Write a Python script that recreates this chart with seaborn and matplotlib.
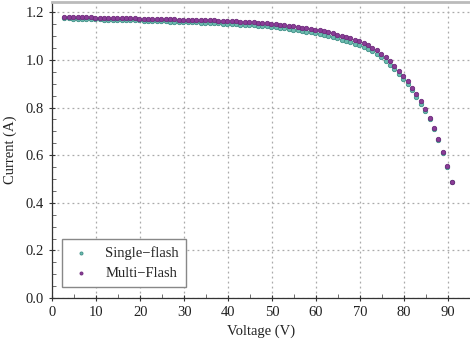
import matplotlib
matplotlib.use("Agg")
import matplotlib.pyplot as plt
from matplotlib.ticker import MultipleLocator
import seaborn as sns
import pandas as pd

voltage = [2.8, 3.8, 4.8, 5.8, 6.8, 7.8, 8.8, 9.8, 10.8, 11.8,
           12.8, 13.8, 14.8, 15.8, 16.8, 17.8, 18.8, 19.8, 20.8, 21.8,
           22.8, 23.8, 24.8, 25.8, 26.8, 27.8, 28.8, 29.8, 30.8, 31.8,
           32.8, 33.8, 34.8, 35.8, 36.8, 37.8, 38.8, 39.8, 40.8, 41.8,
           42.8, 43.8, 44.8, 45.8, 46.8, 47.8, 48.8, 49.8, 50.8, 51.8,
           52.8, 53.8, 54.8, 55.8, 56.8, 57.8, 58.8, 59.8, 60.8, 61.8,
           62.8, 63.8, 64.8, 65.8, 66.8, 67.8, 68.8, 69.8, 70.8, 71.8,
           72.8, 73.8, 74.8, 75.8, 76.8, 77.8, 78.8, 79.8, 80.8, 81.8,
           82.8, 83.8, 84.8, 85.8, 86.8, 87.8, 88.8, 89.8, 90.8]

single_flash = [1.175, 1.175, 1.174, 1.173, 1.173, 1.172, 1.172, 1.171, 1.171, 1.170,
                1.170, 1.169, 1.168, 1.168, 1.167, 1.167, 1.166, 1.166, 1.165, 1.164,
                1.164, 1.163, 1.163, 1.162, 1.161, 1.161, 1.160, 1.160, 1.159, 1.158,
                1.158, 1.157, 1.156, 1.156, 1.155, 1.154, 1.153, 1.152, 1.151, 1.150,
                1.149, 1.148, 1.147, 1.145, 1.144, 1.143, 1.141, 1.139, 1.137, 1.135,
                1.133, 1.130, 1.127, 1.125, 1.122, 1.119, 1.116, 1.112, 1.109, 1.105,
                1.101, 1.096, 1.091, 1.086, 1.081, 1.075, 1.069, 1.062, 1.055, 1.046,
                1.036, 1.024, 1.011, 0.996, 0.979, 0.961, 0.940, 0.919, 0.897, 0.872,
                0.846, 0.817, 0.786, 0.751, 0.710, 0.664, 0.611, 0.552, 0.489]

multi_flash = [1.181, 1.181, 1.180, 1.180, 1.179, 1.179, 1.179, 1.178, 1.178, 1.177,
               1.177, 1.177, 1.176, 1.176, 1.175, 1.175, 1.175, 1.174, 1.174, 1.173,
               1.173, 1.173, 1.172, 1.172, 1.171, 1.171, 1.170, 1.170, 1.169, 1.169,
               1.168, 1.168, 1.167, 1.167, 1.166, 1.165, 1.165, 1.164, 1.163, 1.162,
               1.161, 1.160, 1.159, 1.158, 1.157, 1.156, 1.154, 1.152, 1.150, 1.148,
               1.146, 1.144, 1.141, 1.139, 1.136, 1.133, 1.130, 1.127, 1.124, 1.120,
               1.116, 1.112, 1.107, 1.102, 1.097, 1.091, 1.085, 1.079, 1.071, 1.062,
               1.052, 1.040, 1.027, 1.012, 0.995, 0.976, 0.955, 0.933, 0.910, 0.884,
               0.857, 0.827, 0.794, 0.757, 0.714, 0.667, 0.613, 0.553, 0.489]

series_names = ["Single\u2212flash", "Multi\u2212Flash"]
colors = ["#6cbcb0", "#8a3d97"]
edge_colors = ["#3f8f86", "#6e2b7c"]

df = pd.concat([
    pd.DataFrame({"Voltage": voltage, "Current": single_flash, "Series": series_names[0]}),
    pd.DataFrame({"Voltage": voltage, "Current": multi_flash, "Series": series_names[1]}),
], ignore_index=True)

sns.set_style("white")
plt.rcParams["font.family"] = ["Liberation Serif", "DejaVu Serif"]

fig = plt.figure(figsize=(4.7, 3.45), dpi=100)
ax = fig.add_axes([0.111, 0.1362, 0.889, 0.859])

for name, col, ec in zip(series_names, colors, edge_colors):
    sub = df[df["Series"] == name]
    sns.scatterplot(data=sub, x="Voltage", y="Current", ax=ax, color=col,
                    edgecolor=ec, linewidth=0.6, s=10, label=name, zorder=3)

ax.set_xlim(0, 95)
ax.set_ylim(0, 1.245)
ax.xaxis.set_major_locator(MultipleLocator(10))
ax.xaxis.set_minor_locator(MultipleLocator(5))
ax.yaxis.set_major_locator(MultipleLocator(0.2))
ax.yaxis.set_minor_locator(MultipleLocator(0.05))
ax.yaxis.set_major_formatter(plt.FuncFormatter(lambda v, p: f"{v:.1f}"))

ax.grid(True, which="major", linestyle=(0, (1.5, 2.5)), color="#aaaaaa", linewidth=0.9)
ax.set_axisbelow(True)

ax.tick_params(axis="both", which="major", direction="inout", length=5, width=0.8,
               colors="#333333", labelsize=10.5, labelcolor="#222222",
               bottom=True, left=True, top=False, right=False)
ax.tick_params(axis="both", which="minor", direction="in", length=3, width=0.6,
               colors="#555555", bottom=True, left=True, top=False, right=False)

for side in ["left", "bottom"]:
    ax.spines[side].set_color("#333333")
    ax.spines[side].set_linewidth(0.9)
ax.spines["top"].set_color("#bbbbbb")
ax.spines["top"].set_linewidth(2.0)
ax.spines["right"].set_visible(False)

ax.set_xlabel("Voltage (V)", fontsize=10.5, color="#222222", labelpad=4)
ax.set_ylabel("Current (A)", fontsize=10.5, color="#222222", labelpad=6)

leg = ax.legend(loc="lower left", bbox_to_anchor=(0.005, 0.012), frameon=True,
                fancybox=False, fontsize=10.5, markerscale=0.7, handletextpad=0.9,
                borderpad=0.5, labelspacing=0.45, handlelength=1.6)
leg.get_frame().set_edgecolor("#888888")
leg.get_frame().set_linewidth(1.0)
leg.get_frame().set_facecolor("white")
leg.get_frame().set_alpha(1.0)

fig.savefig("out.png", dpi=100)
